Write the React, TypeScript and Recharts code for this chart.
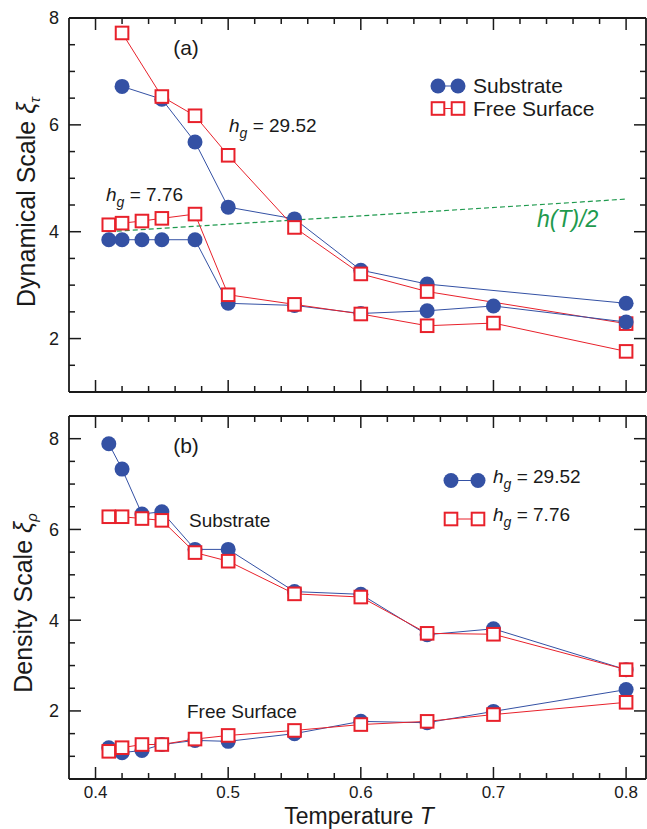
import React from 'react';
import { LineChart, Line, XAxis, YAxis } from 'recharts';

// ---------- data ----------
// Panel (a): dynamical scale
const aHiT = [0.42, 0.45, 0.475, 0.5, 0.55, 0.6, 0.65, 0.8];
const aHiSubstrate = [6.72, 6.48, 5.68, 4.46, 4.24, 3.28, 3.02, 2.66];
const aHiFree = [7.72, 6.53, 6.17, 5.43, 4.08, 3.21, 2.88, 2.28];
const aLoT = [0.41, 0.42, 0.435, 0.45, 0.475, 0.5, 0.55, 0.6, 0.65, 0.7, 0.8];
const aLoSubstrate = [3.85, 3.85, 3.85, 3.85, 3.85, 2.66, 2.62, 2.47, 2.52, 2.61, 2.31];
const aLoFree = [4.13, 4.16, 4.2, 4.25, 4.33, 2.82, 2.64, 2.46, 2.24, 2.29, 1.76];
const hHalfT = [0.41, 0.8];
const hHalf = [4.0, 4.61];

// Panel (b): density scale
const bT = [0.41, 0.42, 0.435, 0.45, 0.475, 0.5, 0.55, 0.6, 0.65, 0.7, 0.8];
const bSubHi = [7.89, 7.33, 6.34, 6.39, 5.56, 5.56, 4.63, 4.57, 3.68, 3.81, 2.91];
const bSubLo = [6.28, 6.28, 6.24, 6.2, 5.49, 5.3, 4.58, 4.51, 3.71, 3.69, 2.91];
const bFreeHi = [1.19, 1.08, 1.13, 1.26, 1.35, 1.33, 1.5, 1.77, 1.74, 1.99, 2.47];
const bFreeLo = [1.11, 1.19, 1.26, 1.26, 1.38, 1.46, 1.57, 1.7, 1.77, 1.92, 2.19];

// ticks
const xTicks = [0.4, 0.42, 0.44, 0.46, 0.48, 0.5, 0.52, 0.54, 0.56, 0.58, 0.6, 0.62, 0.64, 0.66, 0.68, 0.7, 0.72, 0.74, 0.76, 0.78, 0.8];
const yTicksA = [1.5, 2, 2.5, 3, 3.5, 4, 4.5, 5, 5.5, 6, 6.5, 7, 7.5, 8];
const yTicksB = [1, 1.5, 2, 2.5, 3, 3.5, 4, 4.5, 5, 5.5, 6, 6.5, 7, 7.5, 8];

const zip = (xs: number[], ys: number[]) => xs.map((T, i) => ({ T, v: ys[i] }));

const BLUE = '#3451a4';
const RED = '#e8212b';
const GREEN = '#1f9a4e';
const INK = '#1a1a1a';
const FONT = '"Liberation Sans", Arial, Helvetica, sans-serif';

const isMajorX = (v: number) => Math.abs(v * 10 - Math.round(v * 10)) < 1e-6;
const isMajorY = (v: number) => Math.abs(v / 2 - Math.round(v / 2)) < 1e-6;

const makeXTick = (side: 'top' | 'bottom', label: boolean) => (props: any) => {
  const { x, y, payload } = props;
  const v = payload.value as number;
  const major = isMajorX(v);
  const len = major ? 12 : 6;
  const dir = side === 'bottom' ? -1 : 1;
  return (
    <g>
      <line x1={x} x2={x} y1={y} y2={y + dir * len} stroke={INK} strokeWidth={1.5} />
      {label && major ? (
        <text x={x} y={y + 19} textAnchor="middle" fontSize={17} fill={INK} fontFamily={FONT}>
          {v.toFixed(1)}
        </text>
      ) : null}
    </g>
  );
};

const makeYTick = (side: 'left' | 'right', label: boolean) => (props: any) => {
  const { x, y, payload } = props;
  const v = payload.value as number;
  const major = isMajorY(v);
  const len = major ? 12 : 6;
  const dir = side === 'left' ? 1 : -1;
  return (
    <g>
      <line x1={x} x2={x + dir * len} y1={y} y2={y} stroke={INK} strokeWidth={1.5} />
      {label && major ? (
        <text x={x - 10} y={y} dy="0.36em" textAnchor="end" fontSize={18} fill={INK} fontFamily={FONT}>
          {v}
        </text>
      ) : null}
    </g>
  );
};

const circleDot = (props: any) => {
  const { cx, cy, index } = props;
  return <circle key={`c${index}`} cx={cx} cy={cy} r={7.5} fill={BLUE} />;
};
const squareDot = (props: any) => {
  const { cx, cy, index } = props;
  return (
    <rect key={`s${index}`} x={cx - 6.3} y={cy - 6.3} width={12.6} height={12.6} fill="#fff" stroke={RED} strokeWidth={2} />
  );
};

const axisLine = { stroke: INK, strokeWidth: 1.8 };
const xDomain: [number, number] = [0.38, 0.815];

const HG = ({ x, y, value }: { x: number; y: number; value: string }) => (
  <text x={x} y={y} fontSize={19} fill={INK}>
    <tspan fontStyle="italic">h</tspan>
    <tspan fontStyle="italic" fontSize={14} dy={6}>g</tspan>
    <tspan dy={-6}> = {value}</tspan>
  </text>
);

export default function App() {
  const W = 647;
  return (
    <div style={{ position: 'absolute', left: 0, top: 0, width: W, height: 829, background: '#fff', fontFamily: FONT }}>
      {/* Panel (a) */}
      <div style={{ position: 'absolute', left: 0, top: 0 }}>
        <LineChart width={W} height={400} margin={{ top: 0, right: 0, bottom: 0, left: 0 }}>
          <XAxis dataKey="T" type="number" domain={xDomain} allowDataOverflow ticks={xTicks} interval={0}
            tickSize={0} tickMargin={0} tickLine={false} axisLine={axisLine} height={8} tick={makeXTick('bottom', false)} />
          <XAxis xAxisId="top" orientation="top" dataKey="T" type="number" domain={xDomain} allowDataOverflow ticks={xTicks} interval={0}
            tickSize={0} tickMargin={0} tickLine={false} axisLine={axisLine} height={18} tick={makeXTick('top', false)} />
          <YAxis type="number" domain={[1, 8]} allowDataOverflow ticks={yTicksA} interval={0} width={69}
            tickSize={0} tickMargin={0} tickLine={false} axisLine={axisLine} tick={makeYTick('left', true)} />
          <YAxis yAxisId="right" orientation="right" type="number" domain={[1, 8]} allowDataOverflow ticks={yTicksA} interval={0} width={1}
            tickSize={0} tickMargin={0} tickLine={false} axisLine={axisLine} tick={makeYTick('right', false)} />
          <Line data={zip(hHalfT, hHalf)} dataKey="v" stroke={GREEN} strokeWidth={1.2} strokeDasharray="5 3" dot={false} isAnimationActive={false} />
          <Line data={zip(aHiT, aHiSubstrate)} dataKey="v" stroke={BLUE} strokeWidth={1} dot={circleDot} isAnimationActive={false} />
          <Line data={zip(aHiT, aHiFree)} dataKey="v" stroke={RED} strokeWidth={1} dot={squareDot} isAnimationActive={false} />
          <Line data={zip(aLoT, aLoSubstrate)} dataKey="v" stroke={BLUE} strokeWidth={1} dot={circleDot} isAnimationActive={false} />
          <Line data={zip(aLoT, aLoFree)} dataKey="v" stroke={RED} strokeWidth={1} dot={squareDot} isAnimationActive={false} />
        </LineChart>
      </div>

      {/* Panel (b) */}
      <div style={{ position: 'absolute', left: 0, top: 398 }}>
        <LineChart width={W} height={431} margin={{ top: 0, right: 0, bottom: 0, left: 0 }}>
          <XAxis dataKey="T" type="number" domain={xDomain} allowDataOverflow ticks={xTicks} interval={0}
            tickSize={0} tickMargin={0} tickLine={false} axisLine={axisLine} height={50} tick={makeXTick('bottom', true)} />
          <XAxis xAxisId="top" orientation="top" dataKey="T" type="number" domain={xDomain} allowDataOverflow ticks={xTicks} interval={0}
            tickSize={0} tickMargin={0} tickLine={false} axisLine={axisLine} height={18} tick={makeXTick('top', false)} />
          <YAxis type="number" domain={[0.5, 8.5]} allowDataOverflow ticks={yTicksB} interval={0} width={69}
            tickSize={0} tickMargin={0} tickLine={false} axisLine={axisLine} tick={makeYTick('left', true)} />
          <YAxis yAxisId="right" orientation="right" type="number" domain={[0.5, 8.5]} allowDataOverflow ticks={yTicksB} interval={0} width={1}
            tickSize={0} tickMargin={0} tickLine={false} axisLine={axisLine} tick={makeYTick('right', false)} />
          <Line data={zip(bT, bSubHi)} dataKey="v" stroke={BLUE} strokeWidth={1} dot={circleDot} isAnimationActive={false} />
          <Line data={zip(bT, bSubLo)} dataKey="v" stroke={RED} strokeWidth={1} dot={squareDot} isAnimationActive={false} />
          <Line data={zip(bT, bFreeHi)} dataKey="v" stroke={BLUE} strokeWidth={1} dot={circleDot} isAnimationActive={false} />
          <Line data={zip(bT, bFreeLo)} dataKey="v" stroke={RED} strokeWidth={1} dot={squareDot} isAnimationActive={false} />
        </LineChart>
      </div>

      {/* annotations */}
      <svg width={W} height={829} style={{ position: 'absolute', left: 0, top: 0, pointerEvents: 'none' }} fontFamily={FONT}>
        {/* axis titles */}
        <text x={35} y={202} transform="rotate(-90 35 202)" textAnchor="middle" fontSize={25} fill={INK}>
          Dynamical Scale <tspan fontStyle="italic">ξ</tspan><tspan fontSize={15} dy={5} fontStyle="italic">τ</tspan>
        </text>
        <text x={32} y={603} transform="rotate(-90 32 603)" textAnchor="middle" fontSize={25} fill={INK}>
          Density Scale <tspan fontStyle="italic">ξ</tspan><tspan fontSize={15} dy={5} fontStyle="italic">ρ</tspan>
        </text>
        <text x={359} y={824} textAnchor="middle" fontSize={23} fill={INK}>
          Temperature <tspan fontStyle="italic">T</tspan>
        </text>

        {/* panel (a) */}
        <text x={186} y={55} textAnchor="middle" fontSize={21} fill={INK}>(a)</text>
        <HG x={229} y={132} value="29.52" />
        <HG x={106} y={201} value="7.76" />
        <text x={537} y={227} fontSize={23} fill={GREEN} fontStyle="italic">h(T)/2</text>
        {/* legend (a) */}
        <line x1={438} x2={458} y1={86} y2={86} stroke={BLUE} strokeWidth={1} />
        <circle cx={438} cy={86} r={7.5} fill={BLUE} />
        <circle cx={458} cy={86} r={7.5} fill={BLUE} />
        <text x={473} y={93} fontSize={21} fill={INK}>Substrate</text>
        <line x1={438} x2={458} y1={108.5} y2={108.5} stroke={RED} strokeWidth={1} />
        <rect x={431.7} y={102.2} width={12.6} height={12.6} fill="#fff" stroke={RED} strokeWidth={2} />
        <rect x={451.7} y={102.2} width={12.6} height={12.6} fill="#fff" stroke={RED} strokeWidth={2} />
        <text x={473} y={116} fontSize={21} fill={INK}>Free Surface</text>

        {/* panel (b) */}
        <text x={186} y={453} textAnchor="middle" fontSize={21} fill={INK}>(b)</text>
        <text x={189} y={527} fontSize={19} fill={INK}>Substrate</text>
        <text x={187} y={718} fontSize={19} fill={INK}>Free Surface</text>
        {/* legend (b) */}
        <line x1={451} x2={478} y1={480.5} y2={480.5} stroke={BLUE} strokeWidth={1} />
        <circle cx={451} cy={480.5} r={7.5} fill={BLUE} />
        <circle cx={478} cy={480.5} r={7.5} fill={BLUE} />
        <HG x={493} y={483} value="29.52" />
        <line x1={451} x2={478} y1={519} y2={519} stroke={RED} strokeWidth={1} />
        <rect x={444.7} y={512.7} width={12.6} height={12.6} fill="#fff" stroke={RED} strokeWidth={2} />
        <rect x={471.7} y={512.7} width={12.6} height={12.6} fill="#fff" stroke={RED} strokeWidth={2} />
        <HG x={493} y={521} value="7.76" />
      </svg>
    </div>
  );
}
